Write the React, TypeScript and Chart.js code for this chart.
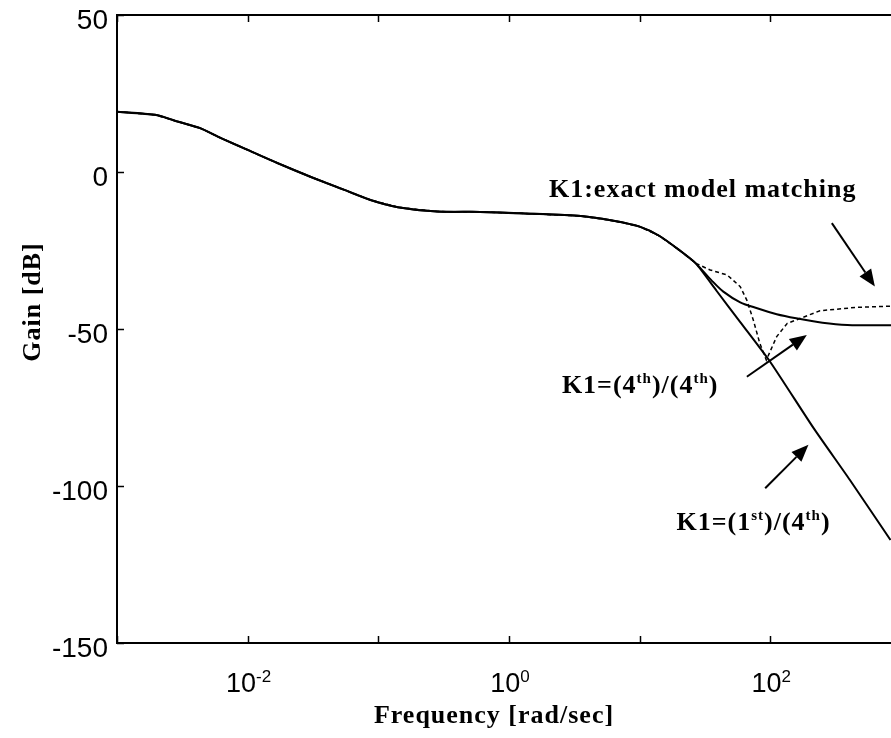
import React, { useEffect, useRef } from 'react';
import { Chart, registerables } from 'chart.js';

Chart.register(...registerables);

// ---- Data (frequency in rad/sec, gain in dB) ----
const commonFreq = [0.001, 0.00195, 0.00295, 0.00437, 0.00631, 0.0107, 0.017, 0.0302, 0.055, 0.0871, 0.141, 0.282, 0.603, 1.32, 3.55, 6.31, 10, 14.1, 20.0, 26.9];
const commonGain = [19.2, 18.2, 16.0, 13.9, 10.7, 6.5, 2.8, -1.5, -5.7, -8.9, -11.2, -12.6, -12.7, -13.2, -14.0, -15.5, -17.4, -20.3, -24.8, -29.1];

// K1: exact model matching (solid, levels off)
const exactFreq = [35.5, 43.7, 58.9, 79.4, 112, 158, 251, 389, 851];
const exactGain = [-34.5, -38.1, -41.5, -43.4, -45.3, -46.6, -48.0, -48.7, -48.8];

// K1 = (1st)/(4th) (solid, keeps falling)
const firstFreq = [38.9, 58.9, 100, 214, 407, 832];
const firstGain = [-37.9, -47.8, -60.5, -81.5, -98.1, -117.2];

// K1 = (4th)/(4th) (dashed, notch)
const fourthFreq = [34.7, 46.8, 58.9, 66.1, 74.1, 83.2, 93.3, 112, 135, 170, 240, 457, 851];
const fourthGain = [-31.2, -32.8, -36.5, -40.8, -47.1, -54.6, -59.9, -52.4, -48.2, -46.6, -44.2, -43.1, -42.7];

// Axes
const xDecades = [0.001, 0.01, 0.1, 1, 10, 100];
const xLabelExponents = [-2, 0, 2];
const yTicks = [-150, -100, -50, 0, 50];
const X_MIN = 0.001;
const X_MAX = 839.5;
const Y_MIN = -150;
const Y_MAX = 50;
const X_TITLE = 'Frequency [rad/sec]';
const Y_TITLE = 'Gain [dB]';

// Annotations (anchor in data coordinates)
const labelTexts = [
  [{ t: 'K1:exact model matching' }],
  [{ t: 'K1=(4' }, { t: 'th', sup: true }, { t: ')/(4' }, { t: 'th', sup: true }, { t: ')' }],
  [{ t: 'K1=(1' }, { t: 'st', sup: true }, { t: ')/(4' }, { t: 'th', sup: true }, { t: ')' }],
];
const labelFreq = [30.4, 10.1, 74.5];
const labelGain = [-8.0, -70.4, -114.0];

const arrowTailFreq = [296, 66.2, 91.4];
const arrowTailGain = [-16.3, -65.2, -100.7];
const arrowTipFreq = [632, 190.5, 196];
const arrowTipGain = [-36.5, -51.9, -86.9];

const toPoints = (f: number[], g: number[]) => f.map((v, i) => ({ x: v, y: g[i] }));

type Part = { t: string; sup?: boolean };

function drawRich(ctx: CanvasRenderingContext2D, parts: Part[], cx: number, baseline: number, mainFont: string, supFont: string, spacing: string, rise: number) {
  const widths = parts.map((p) => {
    ctx.font = p.sup ? supFont : mainFont;
    (ctx as any).letterSpacing = spacing;
    return ctx.measureText(p.t).width;
  });
  const total = widths.reduce((a, b) => a + b, 0);
  let x = cx - total / 2;
  ctx.textAlign = 'left';
  ctx.textBaseline = 'alphabetic';
  parts.forEach((p, i) => {
    ctx.font = p.sup ? supFont : mainFont;
    (ctx as any).letterSpacing = spacing;
    ctx.fillText(p.t, x, p.sup ? baseline - rise : baseline);
    x += widths[i];
  });
  (ctx as any).letterSpacing = '0px';
}

const overlayPlugin = {
  id: 'overlay',
  afterDraw(chart: any) {
    const { ctx, chartArea: a } = chart;
    const xs = chart.scales.x;
    const ys = chart.scales.y;
    ctx.save();
    ctx.strokeStyle = '#000';
    ctx.fillStyle = '#000';

    // top frame line
    ctx.lineWidth = 2;
    ctx.beginPath();
    ctx.moveTo(a.left, a.top);
    ctx.lineTo(a.right, a.top);
    ctx.stroke();

    // inward tick marks
    ctx.lineWidth = 1.5;
    ctx.beginPath();
    for (const v of xDecades) {
      const px = Math.round(xs.getPixelForValue(v)) + 0.5;
      ctx.moveTo(px, a.bottom);
      ctx.lineTo(px, a.bottom - 7);
      ctx.moveTo(px, a.top);
      ctx.lineTo(px, a.top + 7);
    }
    for (const v of yTicks) {
      const py = Math.round(ys.getPixelForValue(v)) + 0.5;
      ctx.moveTo(a.left, py);
      ctx.lineTo(a.left + 7, py);
    }
    ctx.stroke();

    // x tick labels with superscript exponents
    for (const e of xLabelExponents) {
      const px = xs.getPixelForValue(Math.pow(10, e));
      drawRich(ctx, [{ t: '10' }, { t: String(e), sup: true }], px + 1, a.bottom + 49, "27px 'Liberation Sans'", "17px 'Liberation Sans'", '0px', 10);
    }

    // axis titles
    drawRich(ctx, [{ t: X_TITLE }], 494, a.bottom + 80, "bold 26px 'Liberation Serif'", "bold 16px 'Liberation Serif'", '1px', 0);
    ctx.save();
    ctx.translate(40, 302);
    ctx.rotate(-Math.PI / 2);
    drawRich(ctx, [{ t: Y_TITLE }], 0, 0, "bold 26px 'Liberation Serif'", "bold 16px 'Liberation Serif'", '1px', 0);
    ctx.restore();

    // annotation labels
    labelTexts.forEach((parts, i) => {
      const px = xs.getPixelForValue(labelFreq[i]);
      const py = ys.getPixelForValue(labelGain[i]);
      drawRich(ctx, parts as Part[], px, py, "bold 26px 'Liberation Serif'", "bold 15px 'Liberation Serif'", '1px', 10);
    });

    // arrows
    for (let i = 0; i < arrowTailFreq.length; i++) {
      const x1 = xs.getPixelForValue(arrowTailFreq[i]);
      const y1 = ys.getPixelForValue(arrowTailGain[i]);
      const x2 = xs.getPixelForValue(arrowTipFreq[i]);
      const y2 = ys.getPixelForValue(arrowTipGain[i]);
      const ang = Math.atan2(y2 - y1, x2 - x1);
      const hl = 17;
      const hw = 7;
      const bx = x2 - hl * Math.cos(ang);
      const by = y2 - hl * Math.sin(ang);
      ctx.lineWidth = 2;
      ctx.beginPath();
      ctx.moveTo(x1, y1);
      ctx.lineTo(bx, by);
      ctx.stroke();
      ctx.beginPath();
      ctx.moveTo(x2, y2);
      ctx.lineTo(bx + hw * Math.sin(ang), by - hw * Math.cos(ang));
      ctx.lineTo(bx - hw * Math.sin(ang), by + hw * Math.cos(ang));
      ctx.closePath();
      ctx.fill();
    }
    ctx.restore();
  },
};

export default function App() {
  const canvasRef = useRef<HTMLCanvasElement | null>(null);

  useEffect(() => {
    if (!canvasRef.current) return;
    const common = toPoints(commonFreq, commonGain);
    const chart = new Chart(canvasRef.current, {
      type: 'line',
      data: {
        datasets: [
          {
            label: 'K1=(4th)/(4th)',
            data: [...common, ...toPoints(fourthFreq, fourthGain)],
            borderColor: '#000',
            borderWidth: 1.5,
            borderDash: [4, 3],
            pointRadius: 0,
            tension: 0,
          },
          {
            label: 'K1:exact model matching',
            data: [...common, ...toPoints(exactFreq, exactGain)],
            borderColor: '#000',
            borderWidth: 2,
            pointRadius: 0,
            tension: 0.3,
          },
          {
            label: 'K1=(1st)/(4th)',
            data: [...common, ...toPoints(firstFreq, firstGain)],
            borderColor: '#000',
            borderWidth: 2,
            pointRadius: 0,
            tension: 0.2,
          },
        ],
      },
      options: {
        animation: false,
        responsive: true,
        maintainAspectRatio: false,
        layout: { padding: { top: 15, right: 0, left: 0, bottom: 0 } },
        plugins: {
          legend: { display: false },
          tooltip: { enabled: false },
        },
        scales: {
          x: {
            type: 'logarithmic',
            min: X_MIN,
            max: X_MAX,
            grid: { display: false, drawTicks: false },
            border: { display: true, color: '#000', width: 2 },
            ticks: { display: false },
            afterBuildTicks: (s: any) => {
              s.ticks = xDecades.map((v) => ({ value: v }));
            },
            afterFit: (s: any) => {
              s.height = 95;
              s.paddingLeft = 0;
              s.paddingRight = 0;
            },
          },
          y: {
            type: 'linear',
            min: Y_MIN,
            max: Y_MAX,
            grid: { display: false, drawTicks: false },
            border: { display: true, color: '#000', width: 2 },
            ticks: {
              stepSize: 50,
              padding: 9,
              labelOffset: 6,
              color: '#000',
              font: { family: "'Liberation Sans'", size: 28 },
            },
            afterBuildTicks: (s: any) => {
              s.ticks = yTicks.map((v) => ({ value: v }));
            },
            afterFit: (s: any) => {
              s.width = 117;
              s.paddingTop = 0;
              s.paddingBottom = 0;
            },
          },
        },
      },
      plugins: [overlayPlugin],
    } as any);
    return () => chart.destroy();
  }, []);

  return (
    <div style={{ position: 'fixed', left: 0, top: 0, width: 891, height: 738, background: '#fff' }}>
      <canvas ref={canvasRef} />
    </div>
  );
}
